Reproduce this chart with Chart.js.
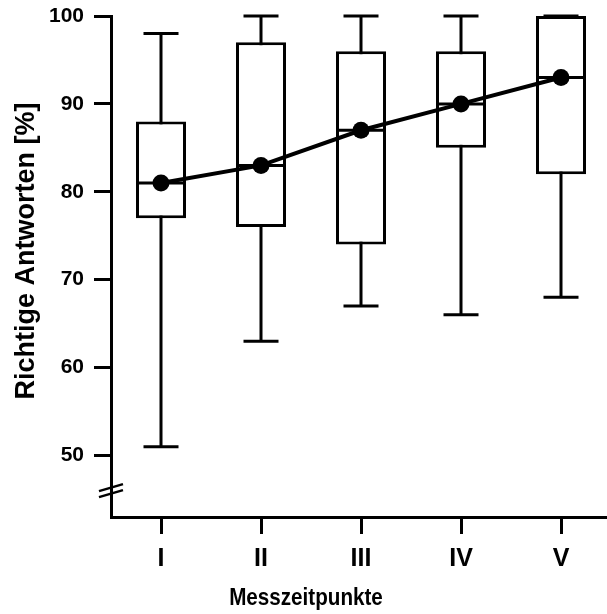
<!DOCTYPE html>
<html>
<head>
<meta charset="utf-8">
<script src="https://cdn.jsdelivr.net/npm/chart.js@4.4.1/dist/chart.umd.min.js"></script>
<style>
  html, body { margin: 0; padding: 0; background: #fff; }
  #chart { display: block; }
</style>
</head>
<body>
<canvas id="chart" width="607" height="614"></canvas>
<script>
const categories = ['I', 'II', 'III', 'IV', 'V'];
const whiskerLow = [51, 63, 67, 66, 68];
const quartile1 = [77, 76, 74, 85, 82];
const medians = [81, 83, 87, 90, 93];
const quartile3 = [88, 97, 96, 96, 100];
const whiskerHigh = [98, 100, 100, 100, 100];
const means = [81, 83, 87, 90, 93];
const yTicks = [50, 60, 70, 80, 90, 100];

const yTitle = 'Richtige Antworten [%]';
const xTitle = 'Messzeitpunkte';

const FONT = "'Liberation Sans', Arial, sans-serif";

// whiskers + caps go under the boxes, medians on top of them
const boxPlotParts = {
  id: 'boxPlotParts',
  beforeDatasetsDraw(chart) {
    const { ctx, scales: { x, y } } = chart;
    ctx.save();
    ctx.strokeStyle = '#000';
    ctx.lineWidth = 3;
    categories.forEach((_, i) => {
      const cx = x.getPixelForValue(i + 1);
      const capL = x.getPixelForValue(i + 1 - 0.175);
      const capR = x.getPixelForValue(i + 1 + 0.175);
      const top = y.getPixelForValue(whiskerHigh[i]);
      const bottom = y.getPixelForValue(whiskerLow[i]);
      ctx.beginPath();
      ctx.moveTo(cx, top);
      ctx.lineTo(cx, bottom);
      ctx.moveTo(capL, top);
      ctx.lineTo(capR, top);
      ctx.moveTo(capL, bottom);
      ctx.lineTo(capR, bottom);
      ctx.stroke();
    });
    ctx.restore();
  },
  afterDatasetDraw(chart, args) {
    if (args.index !== 0) return;
    const { ctx, scales: { y } } = chart;
    ctx.save();
    ctx.strokeStyle = '#000';
    ctx.lineWidth = 3;
    args.meta.data.forEach((bar, i) => {
      const half = bar.width / 2;
      const my = y.getPixelForValue(medians[i]);
      ctx.beginPath();
      ctx.moveTo(bar.x - half, my);
      ctx.lineTo(bar.x + half, my);
      ctx.stroke();
    });
    ctx.restore();
  }
};

const axisDecor = {
  id: 'axisDecor',
  afterDraw(chart) {
    const { ctx, chartArea, scales: { y } } = chart;
    ctx.save();
    ctx.fillStyle = '#000';

    // axis break on the y axis
    const ax = chartArea.left;
    const by = y.getPixelForValue(46);
    ctx.strokeStyle = '#000';
    ctx.lineWidth = 2.5;
    [-3, 3].forEach(off => {
      ctx.beginPath();
      ctx.moveTo(ax - 12, by + off + 3.5);
      ctx.lineTo(ax + 12, by + off - 3.5);
      ctx.stroke();
    });

    // axis titles (condensed look)
    ctx.textAlign = 'center';
    ctx.textBaseline = 'alphabetic';
    ctx.font = 'bold 24px ' + FONT;
    ctx.save();
    ctx.translate(306, 605);
    ctx.scale(0.86, 1);
    ctx.fillText(xTitle, 0, 0);
    ctx.restore();

    ctx.font = 'bold 27px ' + FONT;
    ctx.translate(34, 251);
    ctx.rotate(-Math.PI / 2);
    ctx.fillText(yTitle, 0, 0);
    ctx.restore();
  }
};

new Chart(document.getElementById('chart'), {
  data: {
    datasets: [
      {
        type: 'bar',
        data: categories.map((_, i) => ({ x: i + 1, y: [quartile1[i], quartile3[i]] })),
        backgroundColor: '#fff',
        borderColor: '#000',
        borderWidth: 3,
        borderSkipped: false,
        barPercentage: 0.5,
        categoryPercentage: 1,
        clip: false,
        order: 1
      },
      {
        type: 'line',
        data: categories.map((_, i) => ({ x: i + 1, y: means[i] })),
        borderColor: '#000',
        borderWidth: 4,
        tension: 0,
        pointRadius: 8.5,
        pointBackgroundColor: '#000',
        pointBorderWidth: 0,
        clip: false,
        order: 0
      }
    ]
  },
  options: {
    responsive: false,
    animation: false,
    layout: { autoPadding: false, padding: { top: 16, left: 0, right: 0, bottom: 0 } },
    plugins: {
      legend: { display: false },
      tooltip: { enabled: false }
    },
    scales: {
      x: {
        type: 'linear',
        offset: false,
        min: 0.5,
        max: 5.46,
        afterBuildTicks(scale) {
          scale.ticks = categories.map((_, i) => ({ value: i + 1 }));
        },
        afterFit(scale) {
          scale.height = 97;
          scale.paddingLeft = 0;
          scale.paddingRight = 0;
        },
        ticks: {
          callback: v => categories[Math.round(v) - 1],
          color: '#000',
          font: { family: FONT, size: 25, weight: 'bold' },
          padding: 10,
          maxRotation: 0,
          autoSkip: false
        },
        grid: { offset: false, drawOnChartArea: false, color: '#000', lineWidth: 3, tickLength: 17 },
        border: { color: '#000', width: 3 }
      },
      y: {
        type: 'linear',
        min: 43,
        max: 100,
        afterBuildTicks(scale) {
          scale.ticks = yTicks.map(v => ({ value: v }));
        },
        afterFit(scale) {
          scale.width = 111;
          scale.paddingTop = 0;
          scale.paddingBottom = 0;
        },
        ticks: {
          color: '#000',
          font: { family: FONT, size: 21, weight: 'bold' },
          padding: 10
        },
        grid: { drawOnChartArea: false, color: '#000', lineWidth: 3, tickLength: 17 },
        border: { color: '#000', width: 3 }
      }
    }
  },
  plugins: [boxPlotParts, axisDecor]
});
</script>
</body>
</html>
